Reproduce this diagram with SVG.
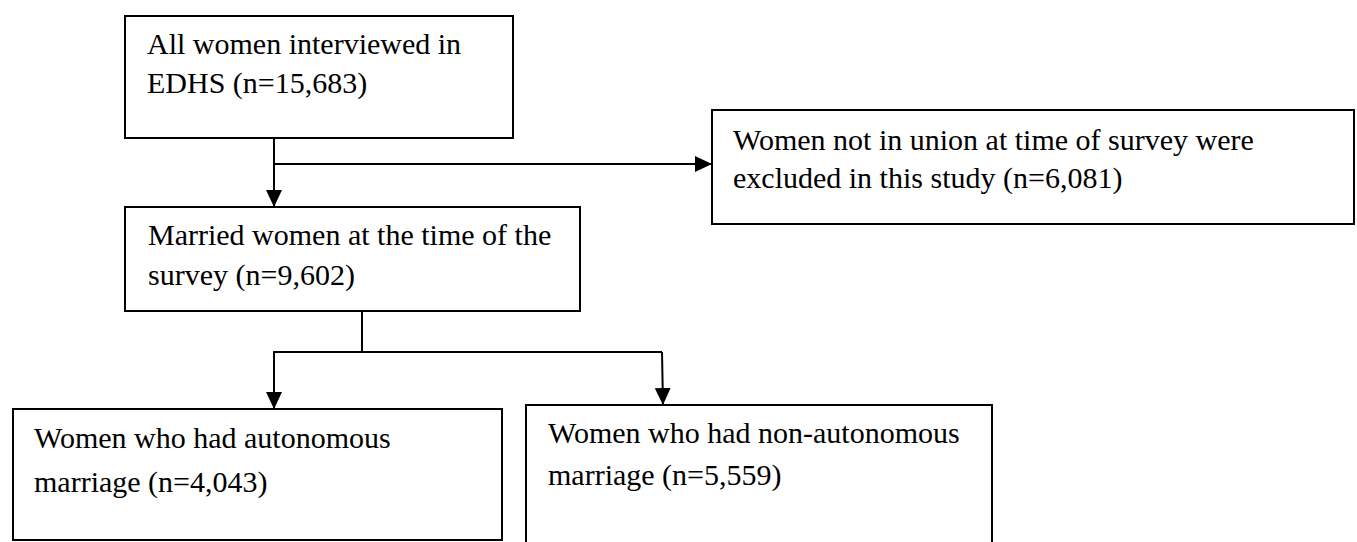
<svg xmlns="http://www.w3.org/2000/svg" width="1357" height="542" viewBox="0 0 1357 542">
<style>
.box{fill:#fff;stroke:#000;stroke-width:2}
.t{font-family:"Liberation Serif","Times New Roman",serif;font-size:30px;fill:#000}
.c{fill:none;stroke:#000;stroke-width:2}
</style>
<defs>
<marker id="ah" markerUnits="userSpaceOnUse" markerWidth="18" markerHeight="16" refX="17" refY="8" orient="auto">
<path d="M0,0 L17,8 L0,16 Z" fill="#000"/>
</marker>
</defs>
<rect width="1357" height="542" fill="#fff"/>
<g id="connectors">
<path class="c" d="M274,138 V207" marker-end="url(#ah)"/>
<path class="c" d="M274,164 H712" marker-end="url(#ah)"/>
<path class="c" d="M362,311 V352"/>
<path class="c" d="M273,352 H662"/>
<path class="c" d="M274,352 V409" marker-end="url(#ah)"/>
<path class="c" d="M662,352 L663,405" marker-end="url(#ah)"/>
</g>
<g id="all-women">
<rect class="box" x="125" y="16" width="388" height="122"/>
<text class="t" x="147" y="54">All women interviewed in</text>
<text class="t" x="147" y="93">EDHS (n=15,683)</text>
</g>
<g id="excluded">
<rect class="box" x="712" y="110" width="642" height="114"/>
<text class="t" x="733" y="150">Women not in union at time of survey were</text>
<text class="t" x="733" y="188">excluded in this study (n=6,081)</text>
</g>
<g id="married">
<rect class="box" x="125" y="207" width="455" height="104"/>
<text class="t" x="148" y="245">Married women at the time of the</text>
<text class="t" x="148" y="285">survey (n=9,602)</text>
</g>
<g id="autonomous">
<rect class="box" x="13" y="409" width="489" height="131"/>
<text class="t" x="34" y="448">Women who had autonomous</text>
<text class="t" x="34" y="492">marriage (n=4,043)</text>
</g>
<g id="non-autonomous">
<rect class="box" x="526" y="405" width="466" height="140"/>
<text class="t" x="548" y="443">Women who had non-autonomous</text>
<text class="t" x="548" y="485">marriage (n=5,559)</text>
</g>
</svg>
